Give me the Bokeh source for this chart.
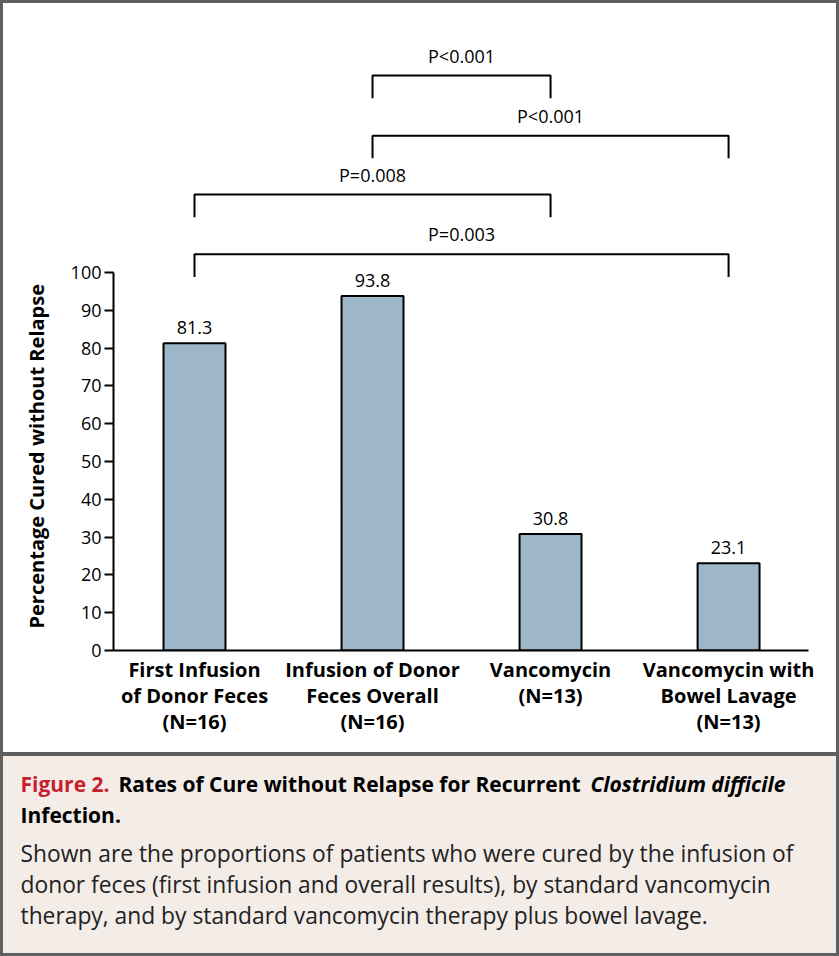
from bokeh.plotting import figure
from bokeh.layouts import column
from bokeh.models import Range1d, FixedTicker, ColumnDataSource
from bokeh.core.properties import value
from bokeh.embed import file_html
from bokeh.resources import INLINE

# ---------------- data ----------------
categories = [
    "First Infusion\nof Donor Feces\n(N=16)",
    "Infusion of Donor\nFeces Overall\n(N=16)",
    "Vancomycin\n(N=13)",
    "Vancomycin with\nBowel Lavage\n(N=13)",
]
cure_rates = [81.3, 93.8, 30.8, 23.1]
y_ticks = [0, 10, 20, 30, 40, 50, 60, 70, 80, 90, 100]
y_title = "Percentage Cured without Relapse"

# comparisons: (first group index, second group index), p-value text
cmp_left = [1, 1, 0, 0]
cmp_right = [2, 3, 2, 3]
cmp_labels = ["P<0.001", "P<0.001", "P=0.008", "P=0.003"]
cmp_level = [152.1, 136.2, 120.6, 104.8]

caption_title_parts = ["Figure 2.", "Rates of Cure without Relapse for Recurrent", "Clostridium difficile"]
caption_title_line2 = "Infection."
caption_body = [
    "Shown are the proportions of patients who were cured by the infusion of",
    "donor feces (first infusion and overall results), by standard vancomycin",
    "therapy, and by standard vancomycin therapy plus bowel lavage.",
]

FONT = "Open Sans"
W = 833
H1 = 749
H2 = 197

# ---------------- chart ----------------
xpos = [i + 1 for i in range(len(categories))]
p = figure(width=W, height=H1, output_backend="svg", toolbar_location=None,
           x_range=Range1d(0.545, 4.449), y_range=Range1d(0, 171.16),
           min_border_left=110, min_border_right=28, min_border_top=0,
           min_border_bottom=102, frame_align=False,
           title=y_title, title_location="left",
           styles={"background-color": "white"})
p.background_fill_color = "white"
p.border_fill_color = "white"
p.outline_line_color = None
p.grid.grid_line_color = None

# the vertical axis title, centred on the 0-100 part of the axis
p.title.align = "left"
p.title.offset = 22
p.title.standoff = 35
p.title.text_font = FONT
p.title.text_font_size = "20px"
p.title.text_font_style = "bold"
p.title.text_color = "black"

src = ColumnDataSource(dict(x=xpos, top=cure_rates,
                            lab=[f"{v:.1f}" for v in cure_rates]))
p.vbar(x="x", top="top", bottom=0, width=0.348, source=src,
       fill_color="#9db7c8", line_color="black", line_width=2)
p.text(x="x", y="top", text="lab", source=src, y_offset=-9,
       text_align="center", text_baseline="bottom",
       text_font=value(FONT), text_font_size="18px", text_color="black")

# brackets
leg = 6.0
xs, ys = [], []
for a, b, lv in zip(cmp_left, cmp_right, cmp_level):
    xa, xb = xpos[a], xpos[b]
    xs.append([xa, xa, xb, xb])
    ys.append([lv - leg, lv, lv, lv - leg])
p.multi_line(xs=xs, ys=ys, line_color="black", line_width=2)
p.text(x=[(xpos[a] + xpos[b]) / 2 for a, b in zip(cmp_left, cmp_right)],
       y=[lv + 5.3 for lv in cmp_level], text=cmp_labels,
       text_align="center", text_baseline="middle",
       text_font=value(FONT), text_font_size="18px", text_color="black")

# axes
ya = p.yaxis[0]
ya.ticker = FixedTicker(ticks=y_ticks)
ya.bounds = (0, 100)
ya.axis_line_width = 2
ya.axis_line_color = "black"
ya.major_tick_out = 9
ya.major_tick_in = 0
ya.major_tick_line_width = 2
ya.major_tick_line_color = "black"
ya.minor_tick_line_color = None
ya.major_label_standoff = 3
ya.major_label_text_font = FONT
ya.major_label_text_font_size = "18px"
ya.major_label_text_color = "black"

xa_ = p.xaxis[0]
xa_.ticker = FixedTicker(ticks=xpos)
xa_.major_label_overrides = {x: c for x, c in zip(xpos, categories)}
xa_.axis_line_width = 2
xa_.axis_line_color = "black"
xa_.major_tick_out = 0
xa_.major_tick_in = 0
xa_.minor_tick_line_color = None
xa_.major_label_standoff = 5
xa_.major_label_text_font = FONT
xa_.major_label_text_font_size = "20px"
xa_.major_label_text_font_style = "bold"
xa_.major_label_text_color = "black"
xa_.major_label_text_line_height = 0.98

# ---------------- caption ----------------
c = figure(width=W, height=H2, output_backend="svg", toolbar_location=None,
           x_range=Range1d(0, W), y_range=Range1d(H2, 0),
           x_axis_location=None, y_axis_location=None,
           min_border=0, frame_align=False,
           styles={"background-color": "#f3ece7"})
c.background_fill_color = "#f3ece7"
c.border_fill_color = "#f3ece7"
c.outline_line_color = None
c.grid.grid_line_color = None

title_x = [17, 115, 587]
title_colors = ["#c8202f", "black", "black"]
title_styles = ["bold", "bold", "bold italic"]
for t, x, col, st in zip(caption_title_parts, title_x, title_colors, title_styles):
    c.text(x=[x], y=[27], text=[t], text_align="left", text_baseline="middle",
           text_font=value(FONT), text_font_size="21px", text_font_style=st,
           text_color=col)
c.text(x=[17], y=[58], text=[caption_title_line2], text_align="left",
       text_baseline="middle", text_font=value(FONT), text_font_size="21px",
       text_font_style="bold", text_color="black")
c.text(x=[17] * len(caption_body), y=[97, 128, 159], text=caption_body,
       text_align="left", text_baseline="middle", text_font=value(FONT),
       text_font_size="22.8px", text_color="#222222")

layout = column(p, c, spacing=4,
                styles={"background-color": "#5f5f5f", "padding": "3px"})

open("out.html", "w").write(file_html(layout, INLINE))
